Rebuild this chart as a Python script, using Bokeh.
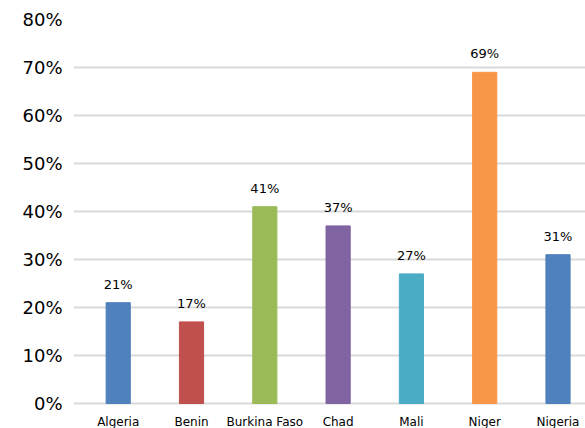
from bokeh.plotting import figure
from bokeh.models import ColumnDataSource, LabelSet, NumeralTickFormatter, FixedTicker, Range1d
from bokeh.core.properties import value
from bokeh.embed import file_html
from bokeh.resources import INLINE

countries = ["Algeria", "Benin", "Burkina Faso", "Chad", "Mali", "Niger", "Nigeria"]
values = [0.21, 0.17, 0.41, 0.37, 0.27, 0.69, 0.31]
colors = ["#4F81BD", "#C0504D", "#9BBB59", "#8064A2", "#4BACC6", "#F79646", "#4F81BD"]
labels = ["21%", "17%", "41%", "37%", "27%", "69%", "31%"]
yticks = [0, 0.1, 0.2, 0.3, 0.4, 0.5, 0.6, 0.7, 0.8]

xpos = list(range(len(countries)))
src = ColumnDataSource(dict(x=xpos, top=values, color=colors, label=labels,
                            base=[0] * len(countries), name=countries))

# frame extends 25px below the zero line so the category names sit inside it
p = figure(x_range=Range1d(-0.61, 6.375), y_range=Range1d(-25 / 480, 0.8),
           width=585, height=428, x_axis_location=None,
           output_backend="svg", toolbar_location=None,
           min_border_left=73, min_border_right=0, min_border_top=19, min_border_bottom=0)
p.outline_line_color = None
p.background_fill_color = "white"
p.border_fill_color = "white"

p.vbar(x="x", top="top", width=0.33, color="color", source=src)

p.add_layout(LabelSet(x="x", y="top", text="label", source=src, text_align="center",
                      text_baseline="alphabetic", y_offset=14, text_font_size=value("13px"),
                      text_font=value("DejaVu Sans"), text_color=value("#000000")))

p.add_layout(LabelSet(x="x", y="base", text="name", source=src, text_align="center",
                      text_baseline="middle", y_offset=-18, text_font_size=value("12px"),
                      text_font=value("DejaVu Sans"), text_color=value("#000000")))

p.yaxis.ticker = FixedTicker(ticks=yticks)
p.yaxis.formatter = NumeralTickFormatter(format="0%")
p.yaxis.axis_line_color = None
p.yaxis.major_tick_line_color = None
p.yaxis.minor_tick_line_color = None
p.yaxis.major_label_text_font_size = "18px"
p.yaxis.major_label_text_font = "DejaVu Sans"
p.yaxis.major_label_text_color = "#000000"
p.yaxis.major_label_standoff = 5

p.xgrid.grid_line_color = None
p.ygrid.grid_line_color = "#D9D9D9"
p.ygrid.grid_line_width = 2
p.ygrid.level = "underlay"

open("out.html", "w").write(file_html(p, INLINE))
